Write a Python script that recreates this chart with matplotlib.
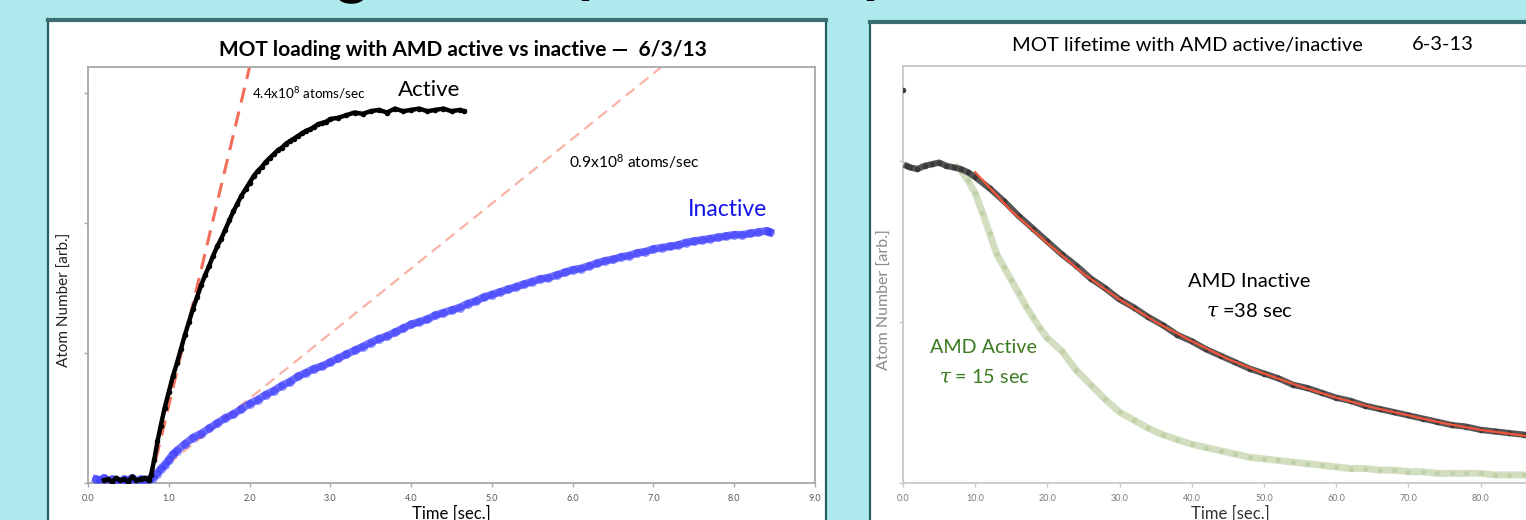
import matplotlib
matplotlib.use("Agg")
import matplotlib.pyplot as plt
from matplotlib.patches import Rectangle
from matplotlib.lines import Line2D

plt.rcParams['font.family'] = ['Lato', 'DejaVu Sans']
plt.rcParams['mathtext.fontset'] = 'dejavuserif'
plt.rcParams['mathtext.default'] = 'regular'

# ---- left chart: MOT loading (time in s, atom number arb.) ----
active_t = [0.20, 0.25, 0.30, 0.35, 0.40, 0.45, 0.50, 0.55, 0.60, 0.65, 0.70, 0.75, 0.78,
            0.82, 0.86, 0.90, 0.95, 1.00, 1.05, 1.10, 1.15, 1.20, 1.25, 1.30, 1.35, 1.40,
            1.45, 1.50, 1.55, 1.60, 1.65, 1.70, 1.75, 1.80, 1.85, 1.90, 1.95, 2.00, 2.05,
            2.10, 2.15, 2.20, 2.25, 2.30, 2.35, 2.40, 2.45, 2.50, 2.55, 2.60, 2.65, 2.70,
            2.75, 2.80, 2.85, 2.90, 2.95, 3.00, 3.10, 3.20, 3.30, 3.40, 3.50, 3.60, 3.70,
            3.80, 3.90, 4.00, 4.10, 4.20, 4.30, 4.40, 4.50, 4.60, 4.66]
active_n = [0.02, 0.03, 0.01, 0.04, 0.02, 0.03, 0.01, 0.05, 0.02, 0.03, 0.04, 0.02, 0.06,
            0.18, 0.32, 0.44, 0.58, 0.70, 0.82, 0.92, 1.03, 1.14, 1.24, 1.34, 1.43, 1.52,
            1.60, 1.67, 1.75, 1.82, 1.88, 1.95, 2.02, 2.09, 2.15, 2.21, 2.26, 2.31, 2.36,
            2.40, 2.43, 2.47, 2.50, 2.53, 2.56, 2.58, 2.61, 2.63, 2.65, 2.67, 2.69, 2.71,
            2.72, 2.74, 2.76, 2.77, 2.78, 2.80, 2.81, 2.83, 2.85, 2.84, 2.86, 2.87, 2.85,
            2.88, 2.86, 2.87, 2.88, 2.86, 2.87, 2.88, 2.86, 2.87, 2.86]

inactive_t = [0.10, 0.15, 0.20, 0.25, 0.30, 0.35, 0.40, 0.45, 0.50, 0.55, 0.60, 0.65, 0.70,
              0.75, 0.80, 0.85, 0.90, 0.95, 1.00, 1.05, 1.10, 1.20, 1.30, 1.40, 1.50, 1.60,
              1.70, 1.80, 1.90, 2.00, 2.10, 2.20, 2.30, 2.40, 2.50, 2.60, 2.70, 2.80, 2.90,
              3.00, 3.10, 3.20, 3.30, 3.40, 3.50, 3.60, 3.70, 3.80, 3.90, 4.00, 4.10, 4.20,
              4.30, 4.40, 4.50, 4.60, 4.70, 4.80, 4.90, 5.00, 5.10, 5.20, 5.30, 5.40, 5.50,
              5.60, 5.70, 5.80, 5.90, 6.00, 6.10, 6.20, 6.30, 6.40, 6.50, 6.60, 6.70, 6.80,
              6.90, 7.00, 7.10, 7.20, 7.30, 7.40, 7.50, 7.60, 7.70, 7.80, 7.90, 8.00, 8.10,
              8.20, 8.30, 8.40, 8.44]
inactive_n = [0.03, 0.02, 0.04, 0.01, 0.03, 0.02, 0.01, 0.03, 0.02, 0.04, 0.01, 0.03, 0.02,
              0.03, 0.04, 0.07, 0.11, 0.14, 0.18, 0.22, 0.25, 0.30, 0.35, 0.38, 0.42, 0.46,
              0.50, 0.53, 0.57, 0.61, 0.64, 0.68, 0.71, 0.75, 0.78, 0.82, 0.85, 0.88, 0.90,
              0.93, 0.96, 0.99, 1.02, 1.05, 1.08, 1.11, 1.13, 1.16, 1.19, 1.22, 1.24, 1.26,
              1.29, 1.31, 1.33, 1.35, 1.38, 1.40, 1.43, 1.45, 1.47, 1.49, 1.51, 1.53, 1.55,
              1.57, 1.58, 1.60, 1.62, 1.64, 1.65, 1.67, 1.69, 1.71, 1.72, 1.74, 1.75, 1.77,
              1.78, 1.80, 1.81, 1.82, 1.83, 1.85, 1.86, 1.87, 1.88, 1.89, 1.90, 1.91, 1.91,
              1.92, 1.93, 1.94, 1.93]

# initial loading-rate lines (start / end points)
rate_active_t = [0.77, 2.00]
rate_active_n = [0.00, 3.20]
rate_inactive_t = [1.00, 7.10]
rate_inactive_n = [0.15, 3.20]

# ---- right chart: MOT lifetime ----
life_in_t = [0, 0.5, 1, 2, 3, 4, 5, 6, 7, 8, 9, 10, 12, 14, 16, 18, 20, 22, 24, 26, 28, 30,
             32, 34, 36, 38, 40, 42, 44, 46, 48, 50, 52, 54, 56, 58, 60, 62, 64, 66, 68, 70,
             72, 74, 76, 78, 80, 82, 84, 86, 88]
life_in_n = [2.44, 1.97, 1.96, 1.95, 1.97, 1.98, 1.99, 1.97, 1.96, 1.95, 1.93, 1.90, 1.83,
             1.75, 1.66, 1.58, 1.50, 1.42, 1.35, 1.27, 1.21, 1.14, 1.09, 1.03, 0.98, 0.92,
             0.88, 0.83, 0.79, 0.75, 0.71, 0.68, 0.65, 0.61, 0.59, 0.56, 0.53, 0.51, 0.48,
             0.46, 0.44, 0.42, 0.40, 0.38, 0.36, 0.35, 0.33, 0.32, 0.31, 0.30, 0.29]

fit_t = [10, 15, 20, 25, 30, 35, 40, 45, 50, 55, 60, 65, 70, 75, 80, 85, 90]
fit_n = [1.93, 1.69, 1.49, 1.30, 1.14, 1.00, 0.88, 0.77, 0.68, 0.60, 0.53, 0.47, 0.42, 0.37,
         0.33, 0.30, 0.27]

life_act_t = [7.5, 8, 9, 10, 11, 12, 13, 14, 15, 16, 17, 18, 19, 20, 22, 24, 26, 28, 30, 32,
              34, 36, 38, 40, 42, 44, 46, 48, 50, 52, 54, 56, 58, 60, 62, 64, 66, 68, 70, 72,
              74, 76, 78, 80, 82, 84, 86, 88]
life_act_n = [1.96, 1.94, 1.88, 1.80, 1.68, 1.55, 1.42, 1.34, 1.26, 1.18, 1.10, 1.03, 0.96,
              0.90, 0.82, 0.70, 0.61, 0.52, 0.44, 0.39, 0.34, 0.30, 0.27, 0.24, 0.22, 0.20,
              0.18, 0.16, 0.15, 0.14, 0.13, 0.12, 0.11, 0.10, 0.09, 0.09, 0.08, 0.08, 0.07,
              0.07, 0.06, 0.06, 0.06, 0.06, 0.05, 0.05, 0.05, 0.05]

left_xticks = [0, 1, 2, 3, 4, 5, 6, 7, 8, 9]
right_xticks = [0, 10, 20, 30, 40, 50, 60, 70, 80]

W, H = 1526, 520
BG = '#AEEAED'


def box(x0, y0, x1, y1):
    return [x0 / W, 1 - y1 / H, (x1 - x0) / W, (y1 - y0) / H]


fig = plt.figure(figsize=(W / 100, H / 100), dpi=100, facecolor=BG)

# cut-off slide heading, only descenders visible
for gx, glyph, ha in [(352, 'g', 'center'), (577, 'p', 'left'), (862, 'p', 'left')]:
    fig.text(gx / W, 1 + 9 / H, glyph, fontsize=44, fontweight='bold', ha=ha,
             va='baseline', color='black', zorder=-3)

# white slide panels (behind the axes)
for x0, x1, y0 in [(48, 826, 20), (870, 1600, 22)]:
    fig.add_artist(Rectangle((x0 / W, -0.1), (x1 - x0) / W, 0.1 + 1 - y0 / H,
                             transform=fig.transFigure, fc='white', ec='#245F63', lw=1.6,
                             zorder=-5))
    fig.add_artist(Line2D([x0 / W, x1 / W], [1 - y0 / H, 1 - y0 / H],
                          transform=fig.transFigure, color='#3B6F73', lw=3, zorder=-4))

frame_col = '#A8A8A8'

# ---------------- left chart ----------------
ax1 = fig.add_axes(box(88, 67, 815, 483))
ax1.patch.set_alpha(0)
ax1.plot(rate_active_t, rate_active_n, color='#F36E5A', lw=2.2, dashes=(5, 3), zorder=2)
ax1.plot(rate_inactive_t, rate_inactive_n, color='#F9B3A5', lw=1.6, dashes=(5, 3), zorder=1)
ax1.plot(inactive_t, inactive_n, color='#2B2BFF', lw=5.5, alpha=0.65, zorder=3)
ax1.plot(inactive_t, inactive_n, 'o', color='#3535FF', ms=6.5, alpha=0.5, mec='none', zorder=3)
ax1.plot(active_t, active_n, color='black', lw=3.2, zorder=4)
ax1.plot(active_t, active_n, 'o', color='black', ms=4, mec='none', zorder=4)
ax1.set_xlim(0, 9)
ax1.set_ylim(0, 3.2)
ax1.set_xticks(left_xticks)
ax1.set_xticklabels(['%.1f' % v for v in left_xticks])
ax1.set_yticks([0, 1, 2, 3])
ax1.set_yticklabels([])
ax1.tick_params(direction='out', length=3, width=1, color=frame_col, labelsize=6.5,
                labelcolor='#555555', pad=5)
for s in ax1.spines.values():
    s.set_color(frame_col)
    s.set_linewidth(1.3)

ax1.text(2.03, 3.0, '4.4x10$^{8}$ atoms/sec', fontsize=9.7, va='center', ha='left')
ax1.text(3.84, 3.02, 'Active', fontsize=16, va='center', ha='left')
ax1.text(5.95, 2.47, '0.9x10$^{8}$ atoms/sec', fontsize=11.2, va='center', ha='left')
ax1.text(8.41, 2.1, 'Inactive', fontsize=16.5, va='center', ha='right', color='#1414F0')

fig.text(463 / W, 1 - 50 / H, 'MOT loading with AMD active vs inactive \u2014  6/3/13',
         fontsize=15, fontweight='bold', ha='center', va='center')
fig.text(65 / W, 1 - 300 / H, 'Atom Number [arb.]', rotation=90, fontsize=11,
         ha='center', va='center', color='#222222')
fig.text(451 / W, 1 - 514 / H, 'Time [sec.]', fontsize=12, ha='center', va='center')

# ---------------- right chart ----------------
ax2 = fig.add_axes(box(903, 66, 1560, 483))
ax2.patch.set_alpha(0)
ax2.plot(life_act_t, life_act_n, color='#D2DEBF', lw=5, zorder=2)
ax2.plot(life_act_t, life_act_n, 'o', color='#BFCFA6', ms=3.5, mec='none', zorder=2)
ax2.plot(life_in_t[1:], life_in_n[1:], color='#555555', lw=4.5, zorder=3)
ax2.plot(life_in_t, life_in_n, 'o', color='#3A3A3A', ms=4, mec='none', zorder=3)
ax2.plot(fit_t, fit_n, color='#F2553A', lw=1.6, zorder=4)
ax2.set_xlim(0, (1560 - 903) / 7.22)
ax2.set_ylim(0, 2.59)
ax2.set_xticks(right_xticks)
ax2.set_xticklabels(['%.1f' % v for v in right_xticks])
ax2.set_yticks([0, 1, 2])
ax2.set_yticklabels([])
ax2.tick_params(direction='out', length=3, width=1, color='#C8C8C8', labelsize=6.5,
                labelcolor='#777777', pad=5)
for s in ax2.spines.values():
    s.set_color('#C8C8C8')
    s.set_linewidth(1.3)

ax2.text(48.0, 1.25, 'AMD Inactive', fontsize=14.5, ha='center', va='center')
ax2.text(48.0, 1.07, r'$\mathit{\tau}$ =38 sec', fontsize=14.5, ha='center', va='center')
ax2.text(11.2, 0.84, 'AMD Active', fontsize=14.2, ha='center', va='center', color='#3C7A22')
ax2.text(11.2, 0.66, r'$\mathit{\tau}$ = 15 sec', fontsize=14.2, ha='center', va='center',
         color='#3C7A22')

fig.text(1187 / W, 1 - 45 / H, 'MOT lifetime with AMD active/inactive', fontsize=14.5,
         ha='center', va='center')
fig.text(1443 / W, 1 - 45 / H, '6-3-13', fontsize=14.5, ha='center', va='center')
fig.text(885 / W, 1 - 300 / H, 'Atom Number [arb.]', rotation=90, fontsize=11.5,
         ha='center', va='center', color='#8A8A8A')
fig.text(1230 / W, 1 - 514 / H, 'Time [sec.]', fontsize=12, ha='center', va='center',
         color='#333333')

fig.savefig('out.png', dpi=100, facecolor=BG)
